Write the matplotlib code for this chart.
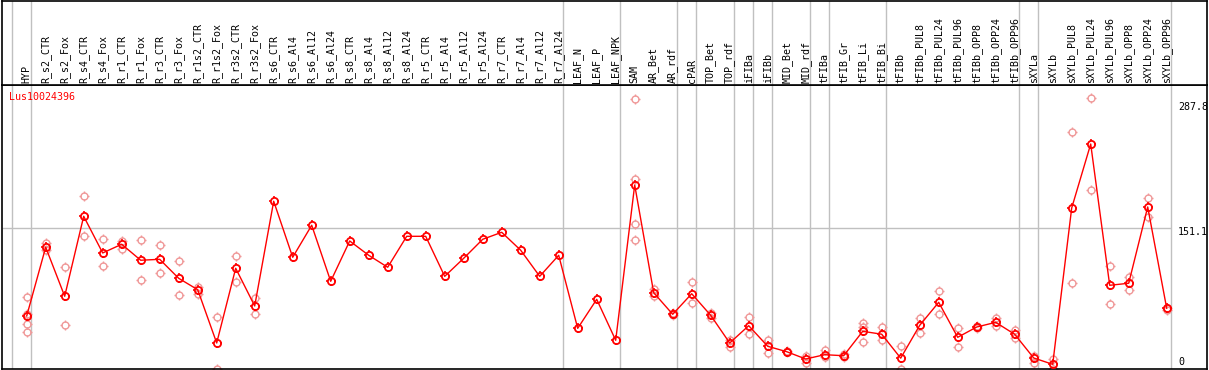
import numpy as np
import matplotlib.pyplot as plt
from matplotlib.path import Path

gene = 'Lus10024396'

labels = ['HYP', 'R_s2_CTR', 'R_s2_Fox', 'R_s4_CTR', 'R_s4_Fox', 'R_r1_CTR', 'R_r1_Fox',
          'R_r3_CTR', 'R_r3_Fox', 'R_r1s2_CTR', 'R_r1s2_Fox', 'R_r3s2_CTR', 'R_r3s2_Fox',
          'R_s6_CTR', 'R_s6_Al4', 'R_s6_Al12', 'R_s6_Al24', 'R_s8_CTR', 'R_s8_Al4',
          'R_s8_Al12', 'R_s8_Al24', 'R_r5_CTR', 'R_r5_Al4', 'R_r5_Al12', 'R_r5_Al24',
          'R_r7_CTR', 'R_r7_Al4', 'R_r7_Al12', 'R_r7_Al24', 'LEAF_N', 'LEAF_P', 'LEAF_NPK',
          'SAM', 'AR_Bet', 'AR_rdf', 'cPAR', 'TOP_Bet', 'TOP_rdf', 'iFIBa', 'iFIBb',
          'MID_Bet', 'MID_rdf', 'tFIBa', 'tFIB_Gr', 'tFIB_Li', 'tFIB_Bi', 'tFIBb',
          'tFIBb_PUL8', 'tFIBb_PUL24', 'tFIBb_PUL96', 'tFIBb_OPP8', 'tFIBb_OPP24',
          'tFIBb_OPP96', 'sXYLa', 'sXYLb', 'sXYLb_PUL8', 'sXYLb_PUL24', 'sXYLb_PUL96',
          'sXYLb_OPP8', 'sXYLb_OPP24', 'sXYLb_OPP96']

# mean expression per sample
means = [56.7, 130.2, 77.8, 163.3, 124.1, 133.4, 116.3, 117.3, 97.0, 84.8, 27.8, 107.7, 67.4,
         179.4, 119.5, 153.7, 93.8, 136.9, 121.6, 108.8, 141.9, 141.9, 99.1, 118.4, 138.7,
         146.2, 127.0, 99.1, 121.6, 43.5, 74.5, 30.7,
         196.8, 81.6, 58.5, 80.5, 57.4, 27.8, 46.3, 24.3, 18.5, 10.7, 15.3, 14.2, 40.3, 37.2,
         11.6, 46.7, 71.3, 33.9, 44.9, 49.9, 37.1, 11.8, 5.0, 172.2, 240.6, 89.5, 91.7,
         173.3, 64.9]

# individual replicates
reps = [[76.7, 58.8, 47.8, 39.9], [135.1, 127.3], [108.8, 46.7], [184.7, 141.9],
        [138.7, 109.8], [136.9, 128.3], [137.6, 94.9], [132.3, 102.4], [115.2, 79.5],
        [87.4, 80.2], [55.3, 0.0], [120.5, 93.4], [75.9, 59.1],
        [], [], [], [], [], [], [], [], [], [], [], [], [], [], [], [], [], [], [],
        [288.4, 203.2, 154.8, 137.6], [85.6, 78.1], [59.5, 57.5], [92.7, 70.3],
        [60.2, 54.9], [31.0, 23.5], [55.6, 37.1], [31.0, 17.1], [19.0, 18.0],
        [13.6, 6.4], [20.3, 12.5], [16.0, 12.8], [48.9, 45.2, 28.6], [44.6, 30.5],
        [24.3, 0.0], [54.2, 38.8], [83.1, 58.5], [43.5, 23.5], [46.0, 43.9],
        [54.2, 46.3], [41.7, 32.8], [14.2, 6.7], [10.5, 0.0], [253.2, 91.7],
        [289.5, 191.1], [109.8, 69.2], [98.4, 84.8], [182.6, 162.9], [63.1, 65.2]]

group_ends = [-1, 0, 28, 31, 34, 35, 37, 38, 39, 41, 42, 45, 52, 53, 60]
scale_labels = [287.8, 151.1, 0]
mid_line = 151.1

mono = 'DejaVu Sans Mono'
fs = 7.2
grid_c = '#c0c0c0'
pink = '#f09898'

# four short outward ticks, drawn on top of an open circle marker
tk = Path([(0, 0.62), (0, 1), (0, -0.62), (0, -1), (0.62, 0), (1, 0), (-0.62, 0), (-1, 0)],
          [Path.MOVETO, Path.LINETO] * 4)

W, H = 1209, 370
fig = plt.figure(figsize=(W / 100, H / 100), dpi=100)
ax = fig.add_axes([2 / W, 1 / H, 1205 / W, 284 / H])
hx = fig.add_axes([2 / W, 285 / H, 1205 / W, 84.5 / H])

x = np.arange(len(labels))
xl = ((2 - 26.7) / 19, (1207 - 26.7) / 19)
for a in (ax, hx):
    a.set_xlim(*xl)
    a.set_xticks([])
    a.set_yticks([])
    for s in a.spines.values():
        s.set_linewidth(1.2)
        s.set_color('black')
    for g in group_ends:
        a.axvline(g + 0.21, color=grid_c, lw=1, zorder=0)
hx.set_ylim(0, 1)
ax.set_ylim(0, 303.7)

ax.hlines(mid_line, xl[0], group_ends[-1] + 0.21, color=grid_c, lw=1, zorder=0)

rx = [i for i, r in enumerate(reps) for _ in r]
ry = [v for r in reps for v in r]
ax.plot(rx, ry, ls='none', marker='o', ms=5, mfc='none', mec=pink, mew=1.0, zorder=2)
ax.plot(rx, ry, ls='none', marker=tk, ms=7, mec=pink, mew=1.0, zorder=2)
ax.plot(x, means, color='red', lw=1, zorder=3)
ax.plot(x, means, ls='none', marker='o', ms=5.2, mfc='none', mec='red', mew=1.3, zorder=4)
ax.plot(x, means, ls='none', marker=tk, ms=7.2, mec='red', mew=1.2, zorder=4)

for i, lab in enumerate(labels):
    hx.text(i, 0.025, lab, rotation=90, ha='center', va='bottom', family=mono,
            fontsize=fs, color='black')

ax.text(7.3 / 1205, 1 - 7.5 / 284, gene, transform=ax.transAxes, ha='left', va='top',
        family=mono, fontsize=fs, color='red')

offs = {287.8: -7, 151.1: -4, 0: 7}
for v in scale_labels:
    ax.annotate(f'{v:g}', (60.59, v), xytext=(0, offs[v]), textcoords='offset pixels',
                ha='left', va='center', family=mono, fontsize=fs, color='black',
                annotation_clip=False)

fig.savefig('out.png', dpi=100)
